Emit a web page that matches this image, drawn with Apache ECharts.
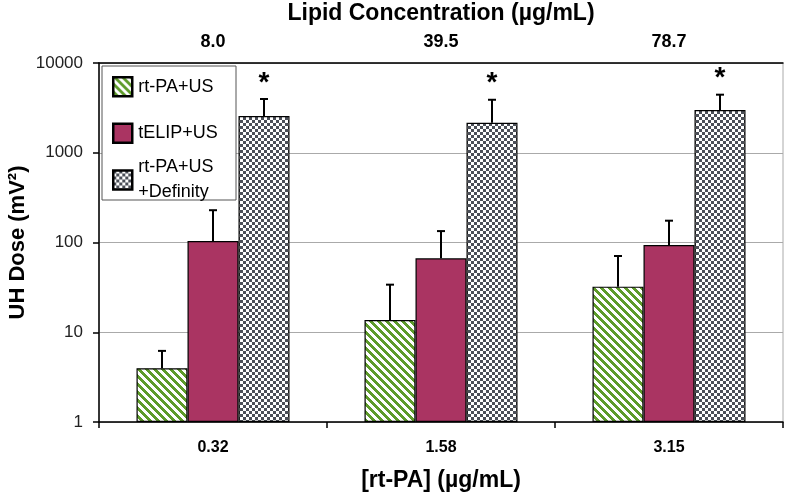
<!DOCTYPE html>
<html>
<head>
<meta charset="utf-8">
<script src="https://cdn.jsdelivr.net/npm/echarts@6/dist/echarts.min.js"></script>
<style>
  html, body { margin: 0; padding: 0; background: #fff; }
  #chart { width: 786px; height: 493px; }
</style>
</head>
<body>
<div id="chart"></div>
<script>
// Valeurs
const categories = ['0.32', '1.58', '3.15'];
const lipidLabels = ['8.0', '39.5', '78.7'];
const seriesNames = ['rt-PA+US', 'tELIP+US', 'rt-PA+US+Definity'];
const rtpaUs = [3.97, 13.7, 32.2];
const rtpaUsErr = [6.2, 33.9, 70.7];
const telipUs = [104, 66.7, 93.8];
const telipUsErr = [229, 134, 175];
const definity = [2570, 2162, 2993];
const definityErr = [3970, 3894, 4436];

const narrow = "'Liberation Sans Narrow', 'Liberation Sans', Arial, sans-serif";
const plain = "'Liberation Sans', Arial, sans-serif";

// Motifs de remplissage (hachures vertes et damier)
function stripePattern() {
    const c = document.createElement('canvas');
    c.width = 8; c.height = 8;
    const ctx = c.getContext('2d');
    ctx.fillStyle = '#fff';
    ctx.fillRect(0, 0, 8, 8);
    ctx.fillStyle = '#5e9b2a';
    for (let x = 0; x < 8; x++) {
        for (let y = 0; y < 8; y++) {
            if ((x - y + 16) % 8 < 4) ctx.fillRect(x, y, 1, 1);
        }
    }
    return { image: c, repeat: 'repeat' };
}

function checkerPattern() {
    const c = document.createElement('canvas');
    c.width = 6; c.height = 6;
    const ctx = c.getContext('2d');
    ctx.fillStyle = '#fff';
    ctx.fillRect(0, 0, 6, 6);
    ctx.fillStyle = '#4b4f58';
    ctx.fillRect(0, 0, 3, 3);
    ctx.fillRect(3, 3, 3, 3);
    return { image: c, repeat: 'repeat' };
}

const fills = [stripePattern(), '#aa3462', checkerPattern()];
const BAR_W = 51;
const offsets = [-BAR_W, 0, BAR_W];

function barSeries(name, values, fill) {
    return {
        name: name,
        type: 'bar',
        data: values,
        barWidth: BAR_W,
        barGap: '0%',
        itemStyle: { color: fill, borderColor: '#000', borderWidth: 1.2 },
        z: 2
    };
}

// Barres d'erreur (vers le haut seulement) + étoiles
function errorSeries(values, errs, offset, star) {
    return {
        type: 'custom',
        z: 4,
        silent: true,
        data: values.map((v, i) => [i, v, errs[i]]),
        renderItem: function (params, api) {
            const i = api.value(0);
            const base = api.coord([i, api.value(1)]);
            const top = api.coord([i, api.value(2)]);
            const x = base[0] + offset;
            const children = [
                { type: 'line', shape: { x1: x, y1: base[1], x2: x, y2: top[1] }, style: { stroke: '#000', lineWidth: 2 } },
                { type: 'line', shape: { x1: x - 4, y1: top[1], x2: x + 4, y2: top[1] }, style: { stroke: '#000', lineWidth: 2 } }
            ];
            if (star) {
                children.push({
                    type: 'text',
                    style: { text: '*', x: x, y: top[1] - 2, align: 'center', verticalAlign: 'bottom', font: 'bold 28px ' + plain, fill: '#000' }
                });
            }
            return { type: 'group', children: children };
        }
    };
}

const chart = echarts.init(document.getElementById('chart'));

const option = {
    animation: false,
    backgroundColor: '#fff',
    grid: {
        left: 99, right: 3, top: 63, bottom: 71,
        outerBoundsMode: 'none', containLabel: false,
        show: true, borderColor: '#aaa', borderWidth: 1
    },
    graphic: [{
        type: 'rect',
        z: 3,
        shape: { x: 102, y: 66, width: 134, height: 134 },
        style: { fill: '#fff', stroke: '#555', lineWidth: 1 }
    }],
    legend: [
        {
            data: [seriesNames[0], seriesNames[1]],
            orient: 'vertical', left: 107, top: 71, z: 5,
            selectedMode: false,
            icon: 'rect', itemWidth: 19, itemHeight: 19, itemGap: 25,
            itemStyle: { borderColor: '#000', borderWidth: 2.5 },
            textStyle: { fontFamily: plain, fontSize: 18, color: '#000', lineHeight: 19, padding: [0, 0, 0, 1] }
        },
        {
            data: [seriesNames[2]],
            orient: 'vertical', left: 107, top: 150, z: 5,
            selectedMode: false,
            icon: 'rect', itemWidth: 19, itemHeight: 19,
            itemStyle: { borderColor: '#000', borderWidth: 2.5 },
            formatter: () => 'rt-PA+US\n+Definity',
            textStyle: { fontFamily: plain, fontSize: 18, color: '#000', lineHeight: 25, padding: [0, 0, 0, 1] }
        }
    ],
    xAxis: [
        {
            type: 'category',
            data: categories,
            position: 'bottom',
            axisLine: { lineStyle: { color: '#000', width: 1.5 } },
            axisTick: { show: true, length: 6, lineStyle: { color: '#000', width: 1.5 } },
            axisLabel: { margin: 18, fontFamily: plain, fontWeight: 'bold', fontSize: 16, color: '#000' },
            name: '[rt-PA] (µg/mL)',
            nameLocation: 'middle',
            nameGap: 47,
            nameTextStyle: { fontFamily: narrow, fontWeight: 'bold', fontSize: 23, color: '#000' }
        },
        {
            type: 'category',
            data: lipidLabels,
            position: 'top',
            axisLine: { lineStyle: { color: '#000', width: 1.5 } },
            axisTick: { show: false },
            axisLabel: { margin: 12, fontFamily: narrow, fontWeight: 'bold', fontSize: 18, color: '#000' },
            name: 'Lipid Concentration (µg/mL)',
            nameLocation: 'middle',
            nameGap: 38,
            nameTextStyle: { fontFamily: narrow, fontWeight: 'bold', fontSize: 23, color: '#000' }
        }
    ],
    yAxis: {
        type: 'log',
        logBase: 10,
        min: 1,
        max: 10000,
        axisLine: { show: true, lineStyle: { color: '#000', width: 1.5 } },
        axisTick: { show: true, length: 6, lineStyle: { color: '#000', width: 1.5 } },
        axisLabel: { margin: 16, fontFamily: plain, fontSize: 17, color: '#222', formatter: v => String(Math.round(v)) },
        splitLine: { show: true, lineStyle: { color: '#aaa', width: 1 } },
        name: 'UH Dose (mV²)',
        nameLocation: 'middle',
        nameGap: 70,
        nameMoveOverlap: false,
        nameTextStyle: { fontFamily: plain, fontWeight: 'bold', fontSize: 22, color: '#000' }
    },
    series: [
        barSeries(seriesNames[0], rtpaUs, fills[0]),
        barSeries(seriesNames[1], telipUs, fills[1]),
        barSeries(seriesNames[2], definity, fills[2]),
        errorSeries(rtpaUs, rtpaUsErr, offsets[0], false),
        errorSeries(telipUs, telipUsErr, offsets[1], false),
        errorSeries(definity, definityErr, offsets[2], true)
    ]
};

chart.setOption(option);
</script>
</body>
</html>
